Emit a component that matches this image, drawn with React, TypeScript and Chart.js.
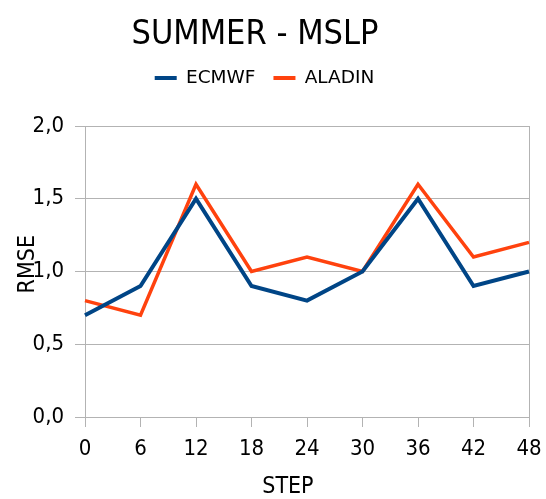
import { useEffect, useRef } from 'react';
import { Chart, registerables } from 'chart.js';

Chart.register(...registerables);

const steps = ['0', '6', '12', '18', '24', '30', '36', '42', '48'];
const ecmwf = [0.7, 0.9, 1.5, 0.9, 0.8, 1.0, 1.5, 0.9, 1.0];
const aladin = [0.8, 0.7, 1.6, 1.0, 1.1, 1.0, 1.6, 1.1, 1.2];
const yMin = 0;
const yMax = 2;
const yStep = 0.5;
const chartTitle = 'SUMMER - MSLP';
const xTitle = 'STEP';
const yTitle = 'RMSE';

const FONT = '"DejaVu Sans Condensed", "Open Sans", sans-serif';
const LEGEND_FONT = '"DejaVu Sans", "Open Sans", sans-serif';
const GRID = '#b3b3b3';

const textPlugin = {
  id: 'textPlugin',
  afterDraw(chart: any) {
    const { ctx, chartArea } = chart;
    ctx.save();
    ctx.fillStyle = '#000';
    ctx.textAlign = 'center';
    ctx.textBaseline = 'middle';
    ctx.font = `34px ${FONT}`;
    ctx.fillText(chartTitle, chart.width * 0.467, 35);
    ctx.font = `23px ${FONT}`;
    ctx.fillText(xTitle, chartArea.left + (chartArea.right - chartArea.left) * 0.457, chartArea.bottom + 70);
    ctx.translate(chartArea.left - 57, chartArea.top + (chartArea.bottom - chartArea.top) * 0.475);
    ctx.rotate(-Math.PI / 2);
    ctx.fillText(yTitle, 0, 0);
    ctx.restore();
  },
};

export default function App() {
  const ref = useRef<HTMLCanvasElement>(null);
  useEffect(() => {
    document.body.style.margin = '0';
    const canvas = ref.current;
    if (!canvas) return;
    const chart = new Chart(canvas, {
      type: 'line',
      data: {
        labels: steps,
        datasets: [
          {
            label: 'ECMWF',
            data: ecmwf,
            borderColor: '#004586',
            backgroundColor: '#004586',
            borderWidth: 4,
            pointRadius: 0,
            tension: 0,
          },
          {
            label: 'ALADIN',
            data: aladin,
            borderColor: '#ff420e',
            backgroundColor: '#ff420e',
            borderWidth: 3.5,
            pointRadius: 0,
            tension: 0,
          },
        ],
      },
      options: {
        animation: false,
        responsive: true,
        maintainAspectRatio: false,
        layout: { padding: { left: 0, right: 17, top: 50.75, bottom: 0 } },
        plugins: {
          tooltip: { enabled: false },
          title: { display: false },
          subtitle: {
            display: true,
            text: ' ',
            weight: 500,
            font: { size: 1, lineHeight: 1 },
            padding: { top: 27.75, bottom: 0 },
          } as any,
          legend: {
            display: true,
            labels: {
              color: '#000',
              font: { family: LEGEND_FONT, size: 18.5 },
              boxWidth: 22,
              boxHeight: 4,
              padding: 18,
              generateLabels: (c: any) =>
                Chart.defaults.plugins.legend.labels.generateLabels(c).map((l: any) => ({ ...l, lineWidth: 0 })),
            },
          },
        },
        scales: {
          x: {
            type: 'category',
            offset: false,
            afterFit: (s: any) => {
              s.height = 82;
              s.paddingLeft = 0;
              s.paddingRight = 0;
            },
            grid: {
              color: (c: any) => (c.index === 0 || c.index === steps.length - 1 ? GRID : 'rgba(0,0,0,0)'),
              tickColor: GRID,
              tickLength: 10,
              drawOnChartArea: true,
            },
            border: { display: true, color: GRID },
            ticks: {
              color: '#000',
              font: { family: FONT, size: 22 },
              padding: 9,
              maxRotation: 0,
              autoSkip: false,
            },
          },
          y: {
            min: yMin,
            max: yMax,
            afterFit: (s: any) => {
              s.width = 85;
            },
            grid: { color: GRID, tickColor: GRID, tickLength: 10 },
            border: { display: true, color: GRID },
            ticks: {
              stepSize: yStep,
              color: '#000',
              font: { family: FONT, size: 22 },
              padding: 11,
              callback: (v: any) => Number(v).toFixed(1).replace('.', ','),
            },
          },
        },
      },
      plugins: [textPlugin],
    });
    return () => chart.destroy();
  }, []);
  return (
    <div style={{ position: 'relative', width: 546, height: 499 }}>
      <canvas ref={ref} style={{ display: 'block' }} />
    </div>
  );
}
